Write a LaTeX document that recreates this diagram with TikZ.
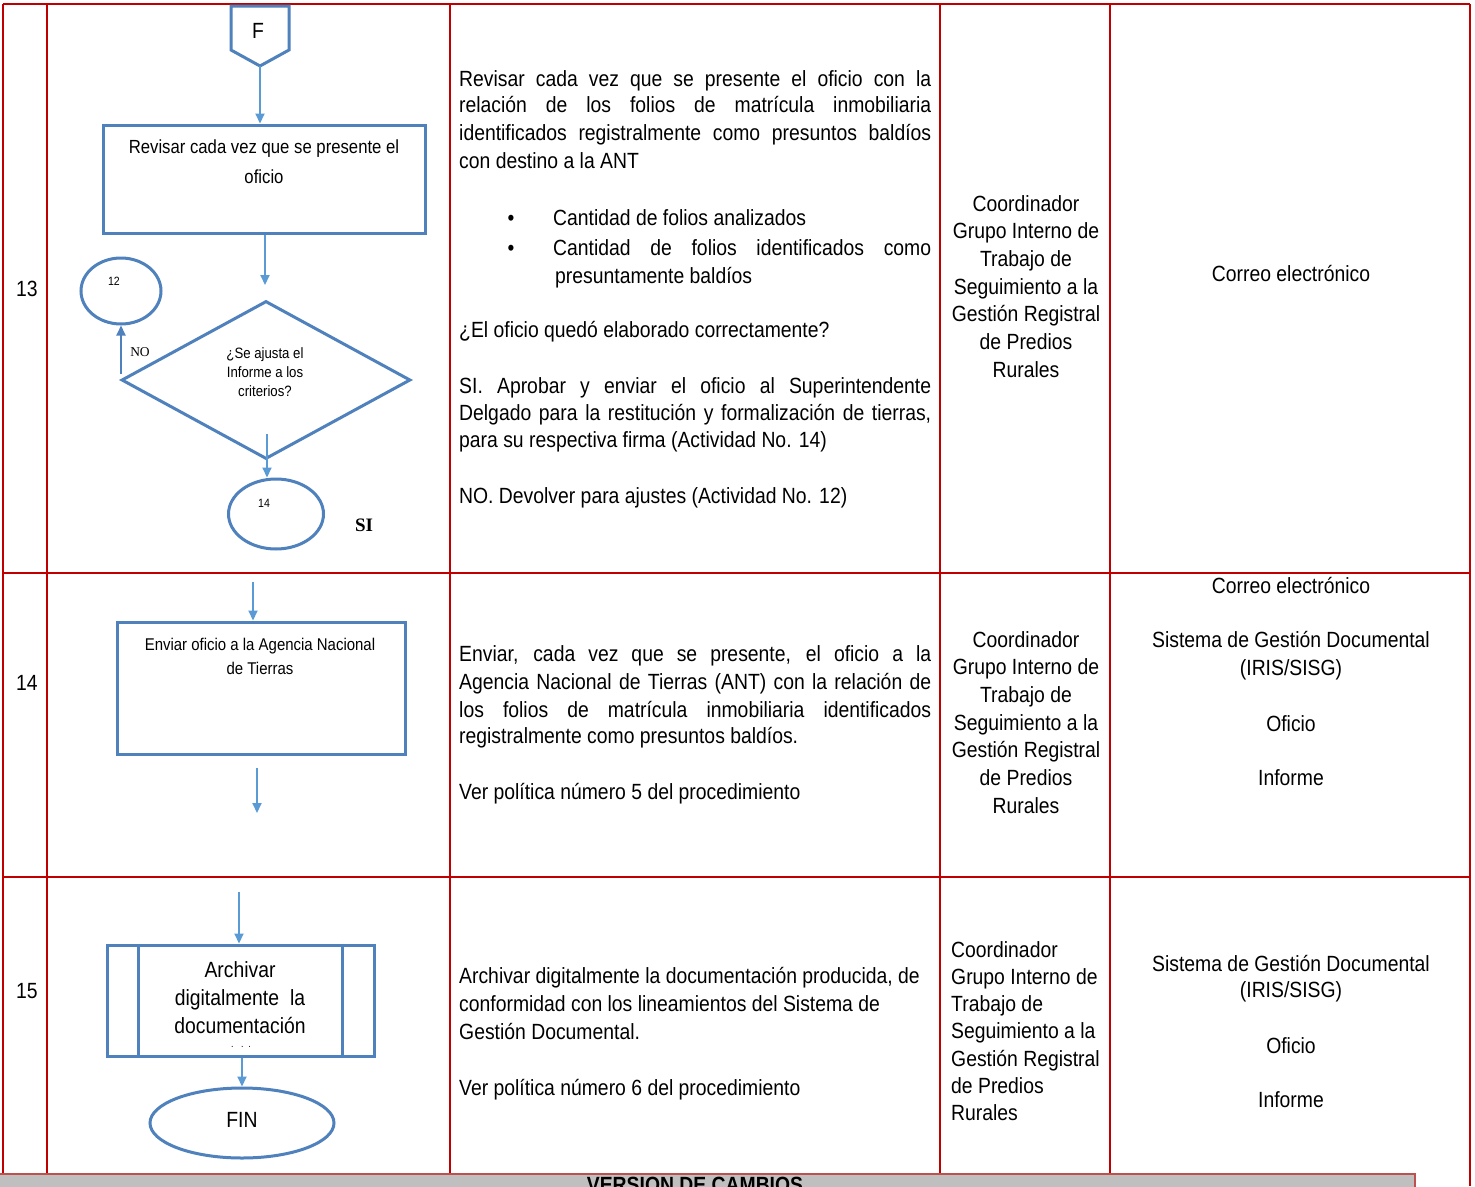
\documentclass[tikz,border=0pt]{standalone}
\usepackage{fontspec}
\setmainfont{Liberation Sans}[FakeStretch=0.88]
\newfontfamily\tnr{Liberation Serif}
\usetikzlibrary{arrows.meta,shapes.geometric}
\definecolor{tred}{RGB}{192,0,0}
\definecolor{sblue}{RGB}{79,129,189}
\definecolor{ablue}{RGB}{91,155,213}
\definecolor{bargrey}{RGB}{191,191,191}
\definecolor{barred}{RGB}{192,80,77}
\newcommand\jl[1]{\makebox[472pt][s]{#1}}
\begin{document}
\begin{tikzpicture}[x=1pt,y=-1pt,
  tline/.style={draw=tred,line width=2pt},
  shp/.style={draw=sblue,line width=3pt},
  arr/.style={draw=ablue,line width=2pt,-{Triangle[length=10pt,width=9pt]}},
  txt/.style={anchor=base west,inner sep=0pt,font=\fontsize{22}{27}\selectfont},
  ctxt/.style={anchor=base,inner sep=0pt,font=\fontsize{22}{27}\selectfont},
  ftxt/.style={align=center,inner sep=0pt},
]
\fill[white] (0,0) rectangle (1475,1186);
\useasboundingbox (0,0) rectangle (1475,1186);

% ---------- table grid ----------
\draw[tline] (3,4) -- (1470,4);
\draw[tline] (3,573) -- (1470,573);
\draw[tline] (3,877) -- (1470,877);
\foreach \xx in {3,47,450,940,1110} \draw[tline] (\xx,4) -- (\xx,1176);
\draw[tline] (1470,4) -- (1470,1186);

% ---------- bottom bar ----------
\draw[fill=bargrey,draw=barred,line width=1.5pt] (-2,1174) rectangle (1415,1196);
\node[anchor=north,inner sep=0pt,font=\fontsize{22}{26}\selectfont\bfseries] (vc) at (695,1177) {VERSION DE CAMBIOS};

% ---------- row numbers ----------
\node[ctxt] (n13) at (27,296) {13};
\node[ctxt] (n14) at (27,690) {14};
\node[ctxt] (n15) at (27,998) {15};

% ---------- flowchart row 13 ----------
\draw[shp] (231,6) -- (289,6) -- (289,50) -- (260,66) -- (231,50) -- cycle;
\coordinate (Fbot) at (260,66);
\node[ftxt,font=\fontsize{22}{26}\selectfont] (F) at (258,31) {F};
\node[shp,minimum width=322pt,minimum height=108pt,inner sep=0pt] (b1) at (264,179) {};
\node[ftxt,font=\fontsize{19}{30}\selectfont] (b1t) at (264,162) {Revisar cada vez que se presente el\\oficio};
\draw[arr] (Fbot) -- (b1.north -| Fbot);
\coordinate (a2e) at (265,285);
\draw[arr] (b1.south -| a2e) -- (a2e);
\node[shp,diamond,minimum width=289pt,minimum height=158pt,inner sep=0pt] (d1) at (266,380) {};
\node[ftxt,font=\fontsize{15}{19}\selectfont] (d1t) at (265,372) {¿Se ajusta el\\Informe a los\\criterios?};
\node[shp,ellipse,minimum width=80pt,minimum height=66pt,inner sep=0pt] (c12) at (121,291) {};
\node[ftxt,font=\fontsize{12}{14}\selectfont] (c12t) at (114,281) {12};
\coordinate (nos) at (121,374);
\draw[arr,draw=sblue] (nos) -- (nos |- c12.south);
\node[ftxt,font=\tnr\fontsize{13.5}{15}\selectfont] (no) at (140,352) {NO};
\node[shp,ellipse,minimum width=95pt,minimum height=70pt,inner sep=0pt] (c14) at (276,514) {};
\node[ftxt,font=\fontsize{12}{14}\selectfont] (c14t) at (264,503) {14};
\coordinate (a3s) at (267,434);
\draw[arr] (a3s) -- (a3s |- c14.north);
\node[ftxt,font=\tnr\fontsize{19}{22}\selectfont\bfseries] (si) at (364,525) {SI};

% ---------- flowchart row 14 ----------
\node[shp,minimum width=288pt,minimum height=132pt,inner sep=0pt] (b2) at (261,688) {};
\node[ftxt,font=\fontsize{17}{24}\selectfont] (b2t) at (260,656) {Enviar oficio a la Agencia Nacional\\de Tierras};
\coordinate (a4s) at (253,582);
\draw[arr] (a4s) -- (a4s |- b2.north);
\coordinate (a5s) at (257,768);
\coordinate (a5e) at (257,813);
\draw[arr] (a5s) -- (a5e);

% ---------- flowchart row 15 ----------
\node[shp,minimum width=267pt,minimum height=111pt,inner sep=0pt] (b3) at (240.5,1000.5) {};
\draw[shp] ([xshift=33pt]b3.north west) -- ([xshift=33pt]b3.south west);
\draw[shp] ([xshift=-33pt]b3.north east) -- ([xshift=-33pt]b3.south east);
\node[ftxt,font=\fontsize{22}{28}\selectfont] (b3t) at (240,998) {Archivar\\digitalmente\enspace la\\documentación};
\node[ftxt,font=\fontsize{10}{10}\selectfont] (b3d) at (241,1047) {.\enspace\ .\enspace .};
\coordinate (a6s) at (239,892);
\draw[arr] (a6s) -- (a6s |- b3.north);
\node[shp,ellipse,minimum width=184pt,minimum height=70pt,inner sep=0pt] (fin) at (242,1123) {};
\node[ftxt,font=\fontsize{22}{26}\selectfont] (fint) at (242,1120) {FIN};
\draw[arr] (b3.south -| fin.north) -- (fin.north);

% ---------- description row 13 ----------
\node[txt] (d13a) at (459,86) {\jl{Revisar cada vez que se presente el oficio con la}};
\node[txt] (d13b) at (459,112) {\jl{relación de los folios de matrícula inmobiliaria}};
\node[txt] (d13c) at (459,140) {\jl{identificados registralmente como presuntos baldíos}};
\node[txt] (d13d) at (459,168) {con destino a la ANT};
\node[ctxt] (bu1) at (511,225) {•};
\node[ctxt] (bu2) at (511,255) {•};
\node[txt] (d13e) at (553,225) {Cantidad de folios analizados};
\node[txt] (d13f) at (553,255) {\makebox[378pt][s]{Cantidad de folios identificados como}};
\node[txt] (d13g) at (555,283) {presuntamente baldíos};
\node[txt] (d13h) at (459,337) {¿El oficio quedó elaborado correctamente?};
\node[txt] (d13i) at (459,393) {\jl{SI. Aprobar y enviar el oficio al Superintendente}};
\node[txt] (d13j) at (459,420) {\jl{Delgado para la restitución y formalización de tierras,}};
\node[txt] (d13k) at (459,447) {para su respectiva firma (Actividad No. 14)};
\node[txt] (d13l) at (459,503) {NO. Devolver para ajustes (Actividad No. 12)};

% ---------- description row 14 ----------
\node[txt] (d14a) at (459,661) {\jl{Enviar, cada vez que se presente, el oficio a la}};
\node[txt] (d14b) at (459,689) {\jl{Agencia Nacional de Tierras (ANT) con la relación de}};
\node[txt] (d14c) at (459,717) {\jl{los folios de matrícula inmobiliaria identificados}};
\node[txt] (d14d) at (459,743) {registralmente como presuntos baldíos.};
\node[txt] (d14e) at (459,799) {Ver política número 5 del procedimiento};

% ---------- description row 15 ----------
\node[txt] (d15a) at (459,983) {Archivar digitalmente la documentación producida, de};
\node[txt] (d15b) at (459,1011) {conformidad con los lineamientos del Sistema de};
\node[txt] (d15c) at (459,1039) {Gestión Documental.};
\node[txt] (d15d) at (459,1095) {Ver política número 6 del procedimiento};

% ---------- responsible column ----------
\foreach \t [count=\i] in {Coordinador,Grupo Interno de,Trabajo de,Seguimiento a la,Gestión Registral,de Predios,Rurales}{
  \node[ctxt] (ra\i) at ({1026},{211+27.7*(\i-1)}) {\t};
  \node[ctxt] (rb\i) at ({1026},{647+27.7*(\i-1)}) {\t};
  \node[txt] (rc\i) at ({951},{957+27.3*(\i-1)}) {\t};
}

% ---------- records column ----------
\node[ctxt] (e13) at (1291,281) {Correo electrónico};
\node[ctxt] (e14a) at (1291,593) {Correo electrónico};
\node[ctxt] (e14b) at (1291,647) {Sistema de Gestión Documental};
\node[ctxt] (e14c) at (1291,675) {(IRIS/SISG)};
\node[ctxt] (e14d) at (1291,731) {Oficio};
\node[ctxt] (e14e) at (1291,785) {Informe};
\node[ctxt] (e15b) at (1291,971) {Sistema de Gestión Documental};
\node[ctxt] (e15c) at (1291,997) {(IRIS/SISG)};
\node[ctxt] (e15d) at (1291,1053) {Oficio};
\node[ctxt] (e15e) at (1291,1107) {Informe};
\end{tikzpicture}
\end{document}
